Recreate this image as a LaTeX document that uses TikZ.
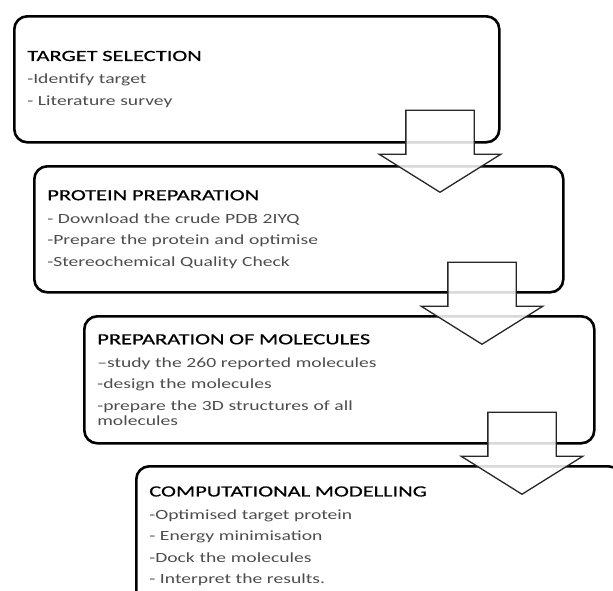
\documentclass[tikz,border=0pt]{standalone}
\usepackage{fontspec}
\newfontfamily\headfont[FakeStretch=1.45,FakeBold=0.6]{Carlito}
\newfontfamily\itemfont[FakeStretch=1.4]{Carlito}
\usetikzlibrary{shapes.arrows}
\definecolor{itemgray}{HTML}{4D4D4D}
\tikzset{
  stage/.style={draw, line width=2.6pt, rounded corners=13pt, anchor=north west, align=left,
    inner xsep=13pt, inner ysep=0pt, text=itemgray, font=\itemfont\fontsize{14}{21.5}\selectfont},
  flow/.style={shape=single arrow, draw=black!85, line width=1.3pt, fill=white, fill opacity=0.85,
    rotate=-90, anchor=tip, inner xsep=0pt, inner ysep=33.5pt, minimum width=120pt, minimum height=82pt,
    single arrow head extend=26.5pt, single arrow tip angle=116}
}
\newcommand{\stagetitle}[1]{{\headfont\fontsize{15.5}{21.5}\selectfont\color{black}#1}}
\begin{document}
\begin{tikzpicture}[x=1pt,y=-1pt]
  \useasboundingbox (0,0) rectangle (613,590);
  \clip (0,0) rectangle (613,590);
  % Stage boxes
  \node[stage, text width=459pt, minimum height=126pt] (target) at (13,15)
    {\stagetitle{TARGET SELECTION}\\[1.5pt] -Identify target\\ - Literature survey};
  \node[stage, text width=503pt, minimum height=126pt] (protein) at (33,165)
    {\stagetitle{PROTEIN PREPARATION}\\[1.5pt] - Download the crude PDB 2IYQ\\ -Prepare the protein and optimise\\ -Stereochemical Quality Check};
  \node[stage, text width=484pt, minimum height=127pt] (molecules) at (83,315)
    {\stagetitle{PREPARATION OF MOLECULES}\\[1.5pt] –study the 260 reported molecules\\ -design the molecules\\ -prepare the 3D structures of all\\[-6.5pt] molecules};
  \node[stage, text width=459pt, minimum height=140pt] (modelling) at (135,465)
    {\stagetitle{COMPUTATIONAL MODELLING}\\[1.5pt] -Optimised target protein\\ - Energy minimisation\\ -Dock the molecules\\ - Interpret the results.};
  % Block arrows
  \node[flow] (flowA) at (440,193) {};
  \node[flow] (flowB) at (482,345) {};
  \node[flow] (flowC) at (522,495) {};
\end{tikzpicture}
\end{document}
